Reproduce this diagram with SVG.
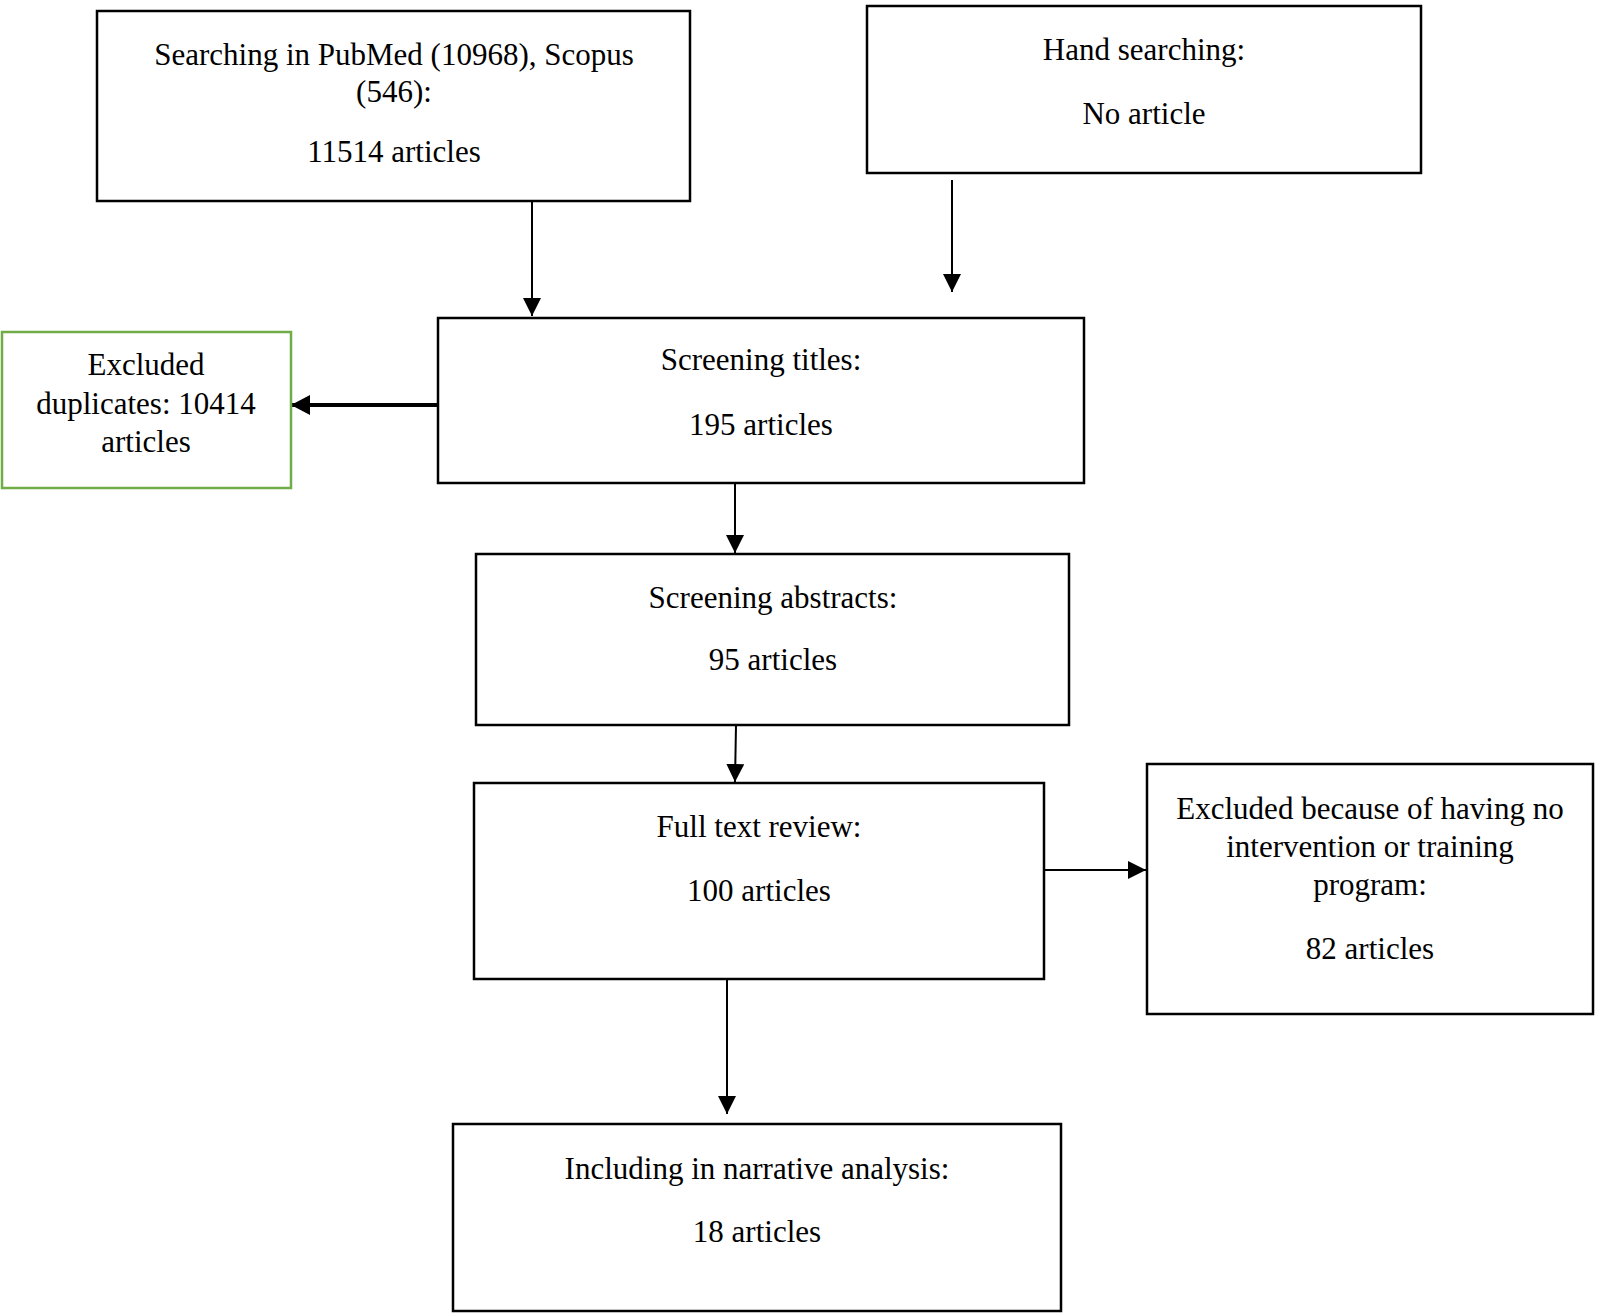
<svg xmlns="http://www.w3.org/2000/svg" width="1598" height="1313" viewBox="0 0 1598 1313">
<defs>
<style>
.box{fill:#fff;stroke:#000;stroke-width:2.5}
.green{fill:#fff;stroke:#70AD47;stroke-width:2.5}
.t{font-family:"Liberation Serif","Times New Roman",serif;font-size:31px;fill:#000;text-anchor:middle}
.c{stroke:#000;stroke-width:2;fill:none}
.ct{stroke:#000;stroke-width:4;fill:none}
</style>
<marker id="ah" markerUnits="userSpaceOnUse" markerWidth="18" markerHeight="18" refX="18" refY="9" orient="auto" viewBox="0 0 18 18">
<path d="M0,0 L18,9 L0,18 z" fill="#000"/>
</marker>
<marker id="ahb" markerUnits="userSpaceOnUse" markerWidth="19" markerHeight="20" refX="19" refY="10" orient="auto" viewBox="0 0 19 20">
<path d="M0,0 L19,10 L0,20 z" fill="#000"/>
</marker>
</defs>
<rect width="1598" height="1313" fill="#fff"/>
<g id="connectors">
<line class="c" x1="532" y1="202" x2="532" y2="316" marker-end="url(#ah)"/>
<line class="c" x1="952" y1="180" x2="952" y2="292" marker-end="url(#ah)"/>
<line class="ct" x1="438" y1="405" x2="291" y2="405" marker-end="url(#ahb)"/>
<line class="c" x1="735" y1="484" x2="735" y2="553" marker-end="url(#ah)"/>
<line class="c" x1="736" y1="725" x2="735" y2="782" marker-end="url(#ah)"/>
<line class="c" x1="1044" y1="870" x2="1146" y2="870" marker-end="url(#ah)"/>
<line class="c" x1="727" y1="979" x2="727" y2="1114" marker-end="url(#ah)"/>
</g>
<g id="search">
<rect class="box" x="97" y="11" width="593" height="190"/>
<text class="t" x="394" y="65">Searching in PubMed (10968), Scopus</text>
<text class="t" x="394" y="102">(546):</text>
<text class="t" x="394" y="162">11514 articles</text>
</g>
<g id="hand">
<rect class="box" x="867" y="6" width="554" height="167"/>
<text class="t" x="1144" y="60">Hand searching:</text>
<text class="t" x="1144" y="124">No article</text>
</g>
<g id="titles">
<rect class="box" x="438" y="318" width="646" height="165"/>
<text class="t" x="761" y="370">Screening titles:</text>
<text class="t" x="761" y="435">195 articles</text>
</g>
<g id="duplicates">
<rect class="green" x="2" y="332" width="289" height="156"/>
<text class="t" x="146" y="375">Excluded</text>
<text class="t" x="146" y="414">duplicates: 10414</text>
<text class="t" x="146" y="452">articles</text>
</g>
<g id="abstracts">
<rect class="box" x="476" y="554" width="593" height="171"/>
<text class="t" x="773" y="608">Screening abstracts:</text>
<text class="t" x="773" y="670">95 articles</text>
</g>
<g id="fulltext">
<rect class="box" x="474" y="783" width="570" height="196"/>
<text class="t" x="759" y="837">Full text review:</text>
<text class="t" x="759" y="901">100 articles</text>
</g>
<g id="excluded2">
<rect class="box" x="1147" y="764" width="446" height="250"/>
<text class="t" x="1370" y="819">Excluded because of having no</text>
<text class="t" x="1370" y="857">intervention or training</text>
<text class="t" x="1370" y="895">program:</text>
<text class="t" x="1370" y="959">82 articles</text>
</g>
<g id="including">
<rect class="box" x="453" y="1124" width="608" height="187"/>
<text class="t" x="757" y="1179">Including in narrative analysis:</text>
<text class="t" x="757" y="1242">18 articles</text>
</g>
</svg>
